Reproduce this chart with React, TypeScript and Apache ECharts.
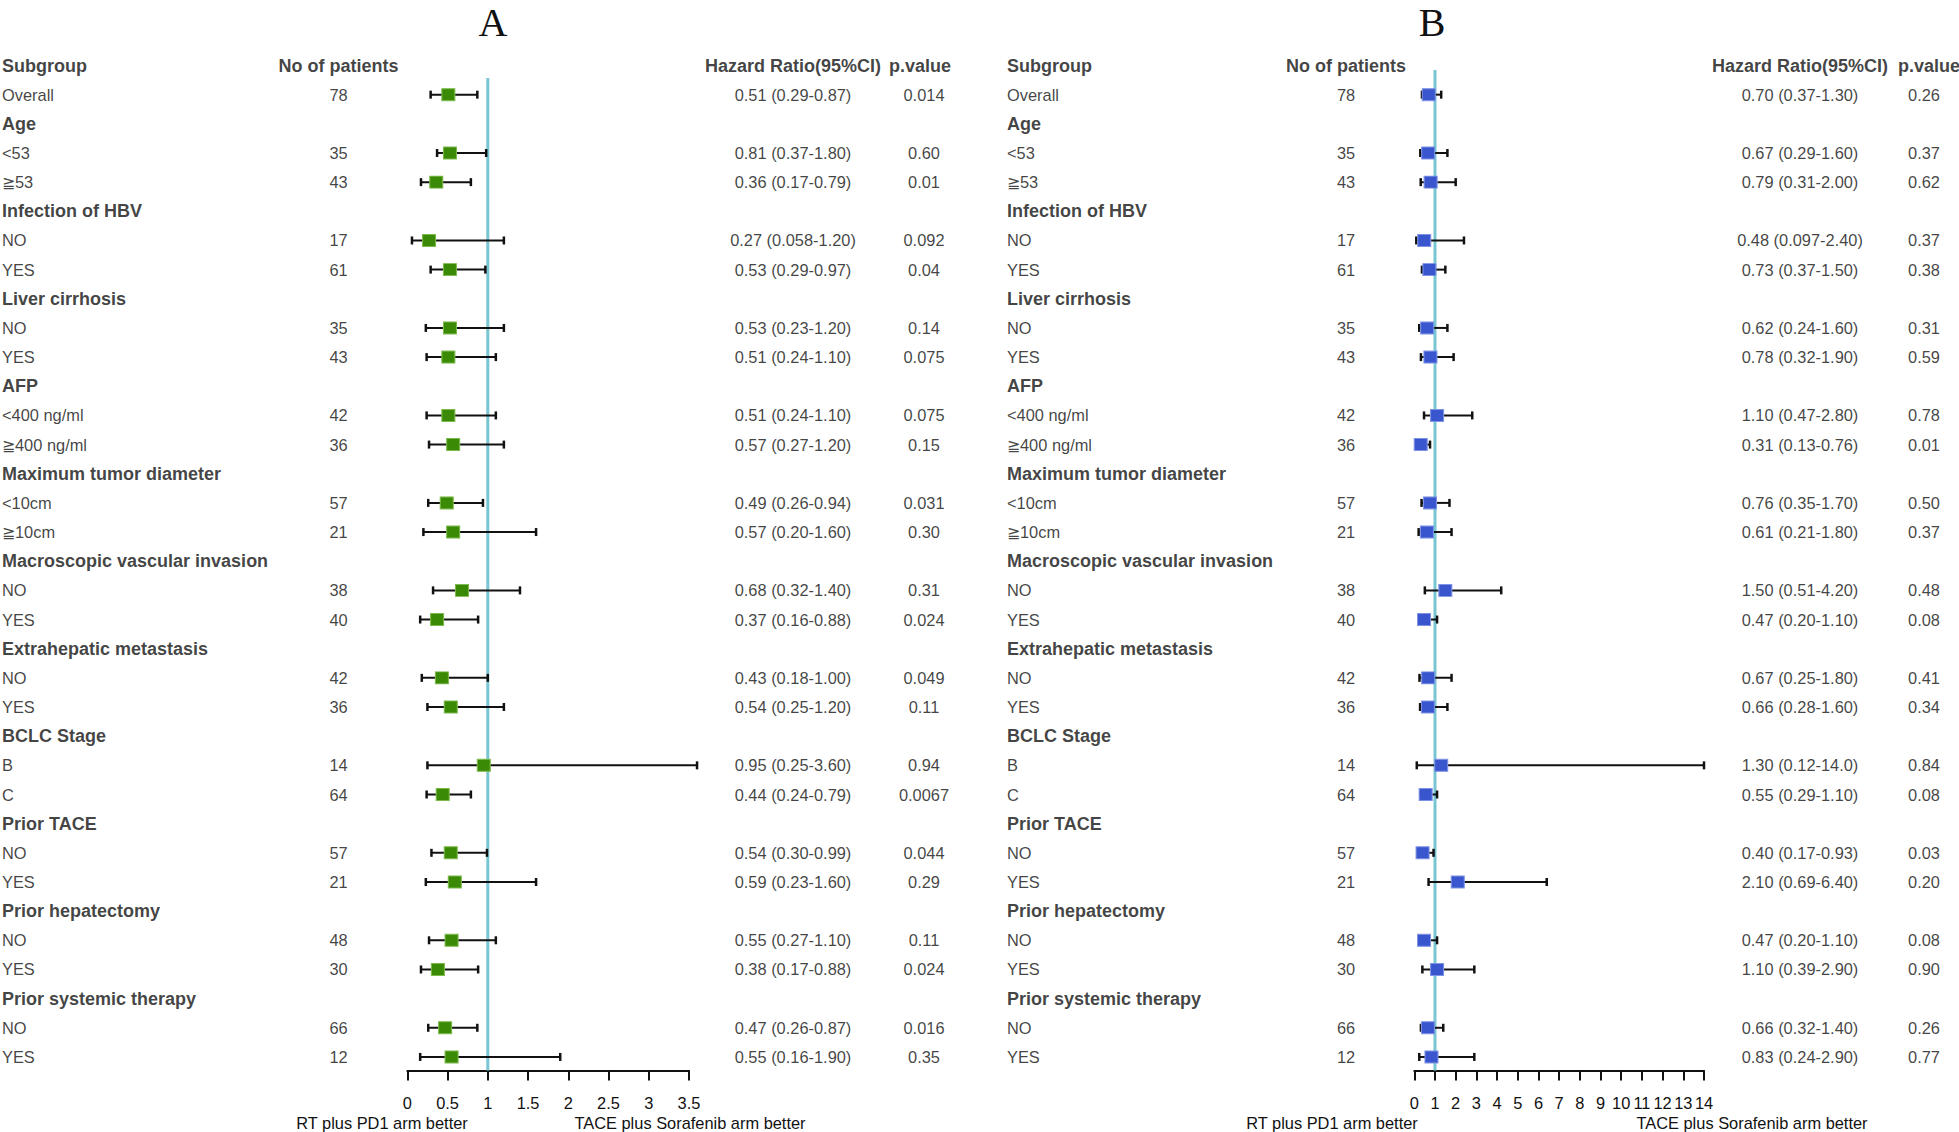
import React, { useEffect, useRef } from "react";
import * as echarts from "echarts";

// ---------------- DATA ----------------
const subgroups = [
  "Overall",
  "Age", "<53", "≧53",
  "Infection of HBV", "NO", "YES",
  "Liver cirrhosis", "NO", "YES",
  "AFP", "<400 ng/ml", "≧400 ng/ml",
  "Maximum tumor diameter", "<10cm", "≧10cm",
  "Macroscopic vascular invasion", "NO", "YES",
  "Extrahepatic metastasis", "NO", "YES",
  "BCLC Stage", "B", "C",
  "Prior TACE", "NO", "YES",
  "Prior hepatectomy", "NO", "YES",
  "Prior systemic therapy", "NO", "YES",
];

const patients: (number | null)[] = [
  78, null, 35, 43, null, 17, 61, null, 35, 43, null, 42, 36, null, 57, 21,
  null, 38, 40, null, 42, 36, null, 14, 64, null, 57, 21, null, 48, 30, null, 66, 12,
];

// Panel A texts
const hrTextA: (string | null)[] = [
  "0.51 (0.29-0.87)", null, "0.81 (0.37-1.80)", "0.36 (0.17-0.79)",
  null, "0.27 (0.058-1.20)", "0.53 (0.29-0.97)",
  null, "0.53 (0.23-1.20)", "0.51 (0.24-1.10)",
  null, "0.51 (0.24-1.10)", "0.57 (0.27-1.20)",
  null, "0.49 (0.26-0.94)", "0.57 (0.20-1.60)",
  null, "0.68 (0.32-1.40)", "0.37 (0.16-0.88)",
  null, "0.43 (0.18-1.00)", "0.54 (0.25-1.20)",
  null, "0.95 (0.25-3.60)", "0.44 (0.24-0.79)",
  null, "0.54 (0.30-0.99)", "0.59 (0.23-1.60)",
  null, "0.55 (0.27-1.10)", "0.38 (0.17-0.88)",
  null, "0.47 (0.26-0.87)", "0.55 (0.16-1.90)",
];
const pTextA: (string | null)[] = [
  "0.014", null, "0.60", "0.01", null, "0.092", "0.04", null, "0.14", "0.075",
  null, "0.075", "0.15", null, "0.031", "0.30", null, "0.31", "0.024",
  null, "0.049", "0.11", null, "0.94", "0.0067", null, "0.044", "0.29",
  null, "0.11", "0.024", null, "0.016", "0.35",
];
// Panel A plotted values (as drawn)
const estA: (number | null)[] = [
  0.51, null, 0.53, 0.36, null, 0.27, 0.53, null, 0.53, 0.51, null, 0.51, 0.57,
  null, 0.49, 0.57, null, 0.68, 0.37, null, 0.43, 0.54, null, 0.95, 0.44,
  null, 0.54, 0.59, null, 0.55, 0.38, null, 0.47, 0.55,
];
const loA: (number | null)[] = [
  0.29, null, 0.37, 0.17, null, 0.058, 0.29, null, 0.23, 0.24, null, 0.24, 0.27,
  null, 0.26, 0.2, null, 0.32, 0.16, null, 0.18, 0.25, null, 0.25, 0.24,
  null, 0.3, 0.23, null, 0.27, 0.17, null, 0.26, 0.16,
];
const hiA: (number | null)[] = [
  0.87, null, 0.98, 0.79, null, 1.2, 0.97, null, 1.2, 1.1, null, 1.1, 1.2,
  null, 0.94, 1.6, null, 1.4, 0.88, null, 1.0, 1.2, null, 3.6, 0.79,
  null, 0.99, 1.6, null, 1.1, 0.88, null, 0.87, 1.9,
];

// Panel B texts
const hrTextB: (string | null)[] = [
  "0.70 (0.37-1.30)", null, "0.67 (0.29-1.60)", "0.79 (0.31-2.00)",
  null, "0.48 (0.097-2.40)", "0.73 (0.37-1.50)",
  null, "0.62 (0.24-1.60)", "0.78 (0.32-1.90)",
  null, "1.10 (0.47-2.80)", "0.31 (0.13-0.76)",
  null, "0.76 (0.35-1.70)", "0.61 (0.21-1.80)",
  null, "1.50 (0.51-4.20)", "0.47 (0.20-1.10)",
  null, "0.67 (0.25-1.80)", "0.66 (0.28-1.60)",
  null, "1.30 (0.12-14.0)", "0.55 (0.29-1.10)",
  null, "0.40 (0.17-0.93)", "2.10 (0.69-6.40)",
  null, "0.47 (0.20-1.10)", "1.10 (0.39-2.90)",
  null, "0.66 (0.32-1.40)", "0.83 (0.24-2.90)",
];
const pTextB: (string | null)[] = [
  "0.26", null, "0.37", "0.62", null, "0.37", "0.38", null, "0.31", "0.59",
  null, "0.78", "0.01", null, "0.50", "0.37", null, "0.48", "0.08",
  null, "0.41", "0.34", null, "0.84", "0.08", null, "0.03", "0.20",
  null, "0.08", "0.90", null, "0.26", "0.77",
];
const estB: (number | null)[] = [
  0.7, null, 0.67, 0.79, null, 0.48, 0.73, null, 0.62, 0.78, null, 1.1, 0.31,
  null, 0.76, 0.61, null, 1.5, 0.47, null, 0.67, 0.66, null, 1.3, 0.55,
  null, 0.4, 2.1, null, 0.47, 1.1, null, 0.66, 0.83,
];
const loB: (number | null)[] = [
  0.37, null, 0.29, 0.31, null, 0.097, 0.37, null, 0.24, 0.32, null, 0.47, 0.13,
  null, 0.35, 0.21, null, 0.51, 0.2, null, 0.25, 0.28, null, 0.12, 0.29,
  null, 0.17, 0.69, null, 0.2, 0.39, null, 0.32, 0.24,
];
const hiB: (number | null)[] = [
  1.3, null, 1.6, 2.0, null, 2.4, 1.5, null, 1.6, 1.9, null, 2.8, 0.76,
  null, 1.7, 1.8, null, 4.2, 1.1, null, 1.8, 1.6, null, 14.0, 1.1,
  null, 0.93, 6.4, null, 1.1, 2.9, null, 1.4, 2.9,
];

const columnHeaders = ["Subgroup", "No of patients", "Hazard Ratio(95%CI)", "p.value"];
const panelTitles = ["A", "B"];
const leftCaption = "RT plus PD1 arm better";
const rightCaption = "TACE plus Sorafenib arm better";
const referenceHR = 1;
const axisA = { min: 0, max: 3.5, interval: 0.5 };
const axisB = { min: 0, max: 14, interval: 1 };

// ---------------- LAYOUT / STYLE ----------------
const W = 1959;
const H = 1132;
const ROW0_Y = 65.5;
const ROW_H = 29.16;
const AXIS_Y = 1070.5;
const FONT = "'Liberation Sans', Arial, Helvetica, sans-serif";
const BODY_SIZE = 16.4;
const BOLD_SIZE = 18;
const TEXT_COLOR = "#111";
const REF_COLOR = "#78C6D2";

const panels = [
  {
    axisLeft: 407.3, axisRight: 689, refTop: 78,
    labelX: 2, countX: 338.5, hrX: 793, pX: 924, pHeadX: 920,
    titleX: 493, capLeftX: 382, capRightX: 690,
    fill: "#3B8A06", border: "#7DBA4C",
    hrText: hrTextA, pText: pTextA, est: estA, lo: loA, hi: hiA, axis: axisA,
  },
  {
    axisLeft: 1414.3, axisRight: 1704, refTop: 70,
    labelX: 1007, countX: 1346, hrX: 1800, pX: 1924, pHeadX: 1929,
    titleX: 1432, capLeftX: 1332, capRightX: 1752,
    fill: "#3A56CF", border: "#7F93E4",
    hrText: hrTextB, pText: pTextB, est: estB, lo: loB, hi: hiB, axis: axisB,
  },
];

type TextItem = { name: string; value: [number, number]; label?: any };

function textSeries(items: TextItem[], align: string) {
  return {
    type: "scatter",
    xAxisIndex: 0,
    yAxisIndex: 0,
    symbol: "circle",
    symbolSize: 1,
    silent: true,
    clip: false,
    itemStyle: { color: "rgba(0,0,0,0)" },
    label: {
      show: true,
      position: "inside",
      formatter: "{b}",
      align,
      verticalAlign: "middle",
      color: TEXT_COLOR,
      fontFamily: FONT,
      fontSize: BODY_SIZE,
    },
    emphasis: { disabled: true },
    data: items,
  };
}

function buildOption() {
  const grids: any[] = [
    { left: 0, top: ROW0_Y, width: W, height: 34 * ROW_H },
  ];
  const xAxes: any[] = [{ type: "value", gridIndex: 0, min: 0, max: W, show: false }];
  const yAxes: any[] = [{ type: "value", gridIndex: 0, min: 0, max: 34, inverse: true, show: false }];
  const series: any[] = [];
  const graphics: any[] = [];

  const bold = { fontWeight: "bold", fontSize: BOLD_SIZE };

  panels.forEach((p, k) => {
    const gi = k + 1;
    grids.push({
      left: p.axisLeft,
      width: p.axisRight - p.axisLeft,
      top: p.refTop,
      height: AXIS_Y - p.refTop,
    });
    const yMin = (p.refTop - ROW0_Y) / ROW_H;
    const yMax = (AXIS_Y - ROW0_Y) / ROW_H;
    xAxes.push({
      type: "value",
      gridIndex: gi,
      min: p.axis.min,
      max: p.axis.max,
      interval: p.axis.interval,
      position: "bottom",
      splitLine: { show: false },
      axisLine: { show: true, onZero: false, lineStyle: { color: TEXT_COLOR, width: 2 } },
      axisTick: { show: true, length: 10, lineStyle: { color: TEXT_COLOR, width: 2 } },
      axisLabel: { color: TEXT_COLOR, fontFamily: FONT, fontSize: BODY_SIZE, margin: 24 },
    });
    yAxes.push({ type: "value", gridIndex: gi, min: yMin, max: yMax, inverse: true, show: false });

    // reference line
    series.push({
      type: "line",
      xAxisIndex: gi,
      yAxisIndex: gi,
      symbol: "none",
      silent: true,
      z: 1,
      lineStyle: { color: REF_COLOR, width: 3 },
      data: [[referenceHR, yMin], [referenceHR, yMax]],
    });

    // error bars
    const barData: number[][] = [];
    const ptData: number[][] = [];
    subgroups.forEach((_, i) => {
      if (p.est[i] != null) {
        barData.push([p.lo[i] as number, p.hi[i] as number, i + 1]);
        ptData.push([p.est[i] as number, i + 1]);
      }
    });
    series.push({
      type: "custom",
      xAxisIndex: gi,
      yAxisIndex: gi,
      z: 2,
      silent: true,
      encode: { x: [0, 1], y: 2 },
      renderItem: (params: any, api: any) => {
        const y = api.value(2);
        const a = api.coord([api.value(0), y]);
        const b = api.coord([api.value(1), y]);
        const cap = 4;
        const style = { stroke: TEXT_COLOR, lineWidth: 2 };
        const capStyle = { stroke: TEXT_COLOR, lineWidth: 2.5 };
        return {
          type: "group",
          children: [
            { type: "line", shape: { x1: a[0], y1: a[1], x2: b[0], y2: b[1] }, style },
            { type: "line", shape: { x1: a[0], y1: a[1] - cap, x2: a[0], y2: a[1] + cap }, style: capStyle },
            { type: "line", shape: { x1: b[0], y1: b[1] - cap, x2: b[0], y2: b[1] + cap }, style: capStyle },
          ],
        };
      },
      data: barData,
    });

    // point estimates
    series.push({
      type: "scatter",
      xAxisIndex: gi,
      yAxisIndex: gi,
      z: 3,
      silent: true,
      symbol: "rect",
      symbolSize: [13, 12],
      itemStyle: { color: p.fill, borderColor: p.border, borderWidth: 1, opacity: 1 },
      data: ptData,
    });

    // table texts
    const leftItems: TextItem[] = [
      { name: columnHeaders[0], value: [p.labelX, 0], label: bold },
    ];
    const centerItems: TextItem[] = [
      { name: columnHeaders[1], value: [p.countX, 0], label: bold },
      { name: columnHeaders[2], value: [p.hrX, 0], label: bold },
      { name: columnHeaders[3], value: [p.pHeadX, 0], label: bold },
    ];
    subgroups.forEach((s, i) => {
      const isHeader = patients[i] == null;
      leftItems.push({ name: s, value: [p.labelX, i + 1], label: isHeader ? bold : undefined });
      if (!isHeader) {
        centerItems.push({ name: String(patients[i]), value: [p.countX, i + 1] });
        centerItems.push({ name: p.hrText[i] as string, value: [p.hrX, i + 1] });
        centerItems.push({ name: p.pText[i] as string, value: [p.pX, i + 1] });
      }
    });
    series.push(textSeries(leftItems, "left"));
    series.push(textSeries(centerItems, "center"));

    graphics.push({
      type: "text",
      x: p.titleX,
      y: 22,
      silent: true,
      style: {
        text: panelTitles[k],
        fontFamily: "'Liberation Serif', 'Times New Roman', serif",
        fontSize: 40,
        fill: TEXT_COLOR,
        align: "center",
        verticalAlign: "middle",
      },
    });
    graphics.push({
      type: "text",
      x: p.capLeftX,
      y: 1123,
      silent: true,
      style: {
        text: leftCaption, fontFamily: FONT, fontSize: BODY_SIZE, fill: TEXT_COLOR,
        align: "center", verticalAlign: "middle",
      },
    });
    graphics.push({
      type: "text",
      x: p.capRightX,
      y: 1123,
      silent: true,
      style: {
        text: rightCaption, fontFamily: FONT, fontSize: BODY_SIZE, fill: TEXT_COLOR,
        align: "center", verticalAlign: "middle",
      },
    });
  });

  return {
    animation: false,
    backgroundColor: "#ffffff",
    textStyle: { fontFamily: FONT },
    grid: grids,
    xAxis: xAxes,
    yAxis: yAxes,
    series,
    graphic: graphics,
  };
}

export default function App() {
  const ref = useRef<HTMLDivElement>(null);
  useEffect(() => {
    if (!ref.current) return;
    const chart = echarts.init(ref.current, undefined, { renderer: "svg" });
    chart.setOption(buildOption() as any);
    return () => chart.dispose();
  }, []);
  return (
    <div
      ref={ref}
      style={{ position: "fixed", left: 0, top: 0, width: W, height: H, background: "#fff" }}
    />
  );
}
